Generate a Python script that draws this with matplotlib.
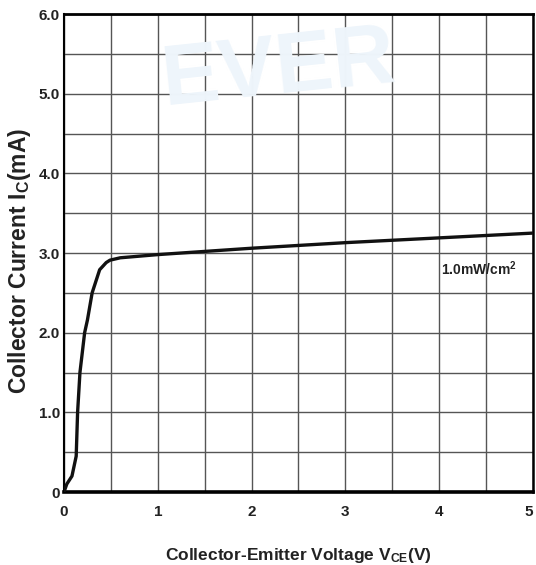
import matplotlib
matplotlib.use('Agg')
import matplotlib.pyplot as plt
import matplotlib.transforms as mtransforms
import numpy as np

# curve (V_CE in V, I_C in mA)
vce = [0, 0.03, 0.085, 0.13, 0.145, 0.17, 0.22, 0.25, 0.30, 0.38, 0.45, 0.49,
       0.6, 1.0, 2.0, 3.0, 4.0, 5.0]
ic = [0, 0.1, 0.2, 0.45, 1.0, 1.5, 2.0, 2.16, 2.5, 2.79, 2.88, 2.91,
      2.94, 2.98, 3.06, 3.13, 3.19, 3.25]

xticks = [0, 1, 2, 3, 4, 5]
xticklabels = ['0', '1', '2', '3', '4', '5']
yticks = [0, 1, 2, 3, 4, 5, 6]
yticklabels = ['0', '1.0', '2.0', '3.0', '4.0', '5.0', '6.0']
curve_label = '1.0mW/cm$^{2}$'

plt.rcParams['font.family'] = ['Liberation Sans', 'DejaVu Sans']
plt.rcParams['mathtext.fontset'] = 'custom'
plt.rcParams['mathtext.rm'] = 'Liberation Sans:bold'
plt.rcParams['mathtext.it'] = 'Liberation Sans:bold'
plt.rcParams['mathtext.bf'] = 'Liberation Sans:bold'


def plot():
    fig = plt.figure(figsize=(5.36, 5.65), dpi=100)
    ax = fig.add_axes([0.1194, 0.1292, 0.875, 0.846])

    # faint watermark
    fig.text(0.52, 0.875, 'EVER', fontsize=62, fontweight='bold',
             color='#eef5fb', ha='center', va='center', rotation=6,
             zorder=0)

    ax.set_xlim(0, 5)
    ax.set_ylim(0, 6)
    ax.patch.set_alpha(0)
    ax.set_xticks(xticks)
    ax.set_xticklabels(xticklabels)
    ax.set_yticks(yticks)
    ax.set_yticklabels(yticklabels)
    ax.set_xticks(np.arange(0.5, 5, 1.0), minor=True)
    ax.set_yticks(np.arange(0.5, 6, 1.0), minor=True)
    ax.grid(True, which='both', color='#555555', lw=1.0)
    ax.tick_params(which='both', length=0)
    ax.tick_params(axis='x', pad=9, labelsize=11)
    ax.tick_params(axis='y', pad=3, labelsize=11)
    for lab in ax.get_xticklabels() + ax.get_yticklabels():
        lab.set_fontweight('bold')
        lab.set_color('#222222')
    last = ax.get_xticklabels()[-1]
    last.set_transform(last.get_transform() +
                       mtransforms.ScaledTranslation(-4 / 100, 0, fig.dpi_scale_trans))

    ax.spines['top'].set_linewidth(2.0)
    ax.spines['right'].set_linewidth(1.8)
    ax.spines['left'].set_linewidth(1.5)
    ax.spines['bottom'].set_linewidth(2.6)

    ax.plot(vce, ic, color='#111111', lw=2.4, solid_capstyle='round', zorder=3)

    ax.text(4.02, 2.8, curve_label, fontsize=10, fontweight='bold',
            color='#222222', ha='left', va='center')

    ax.set_xlabel('Collector-Emitter Voltage V$_{\\mathrm{CE}}$(V)',
                  fontsize=12.5, fontweight='bold', color='#222222', labelpad=20)
    ax.set_ylabel('Collector Current I$_{\\mathrm{C}}$(mA)', fontsize=16.5,
                  fontweight='bold', color='#222222')
    ax.yaxis.set_label_coords(-0.094, 0.483)
    ax.yaxis.label.set_va('center')
    return fig


if __name__ == '__main__':
    fig = plot()
    fig.savefig('out.png', dpi=100)
